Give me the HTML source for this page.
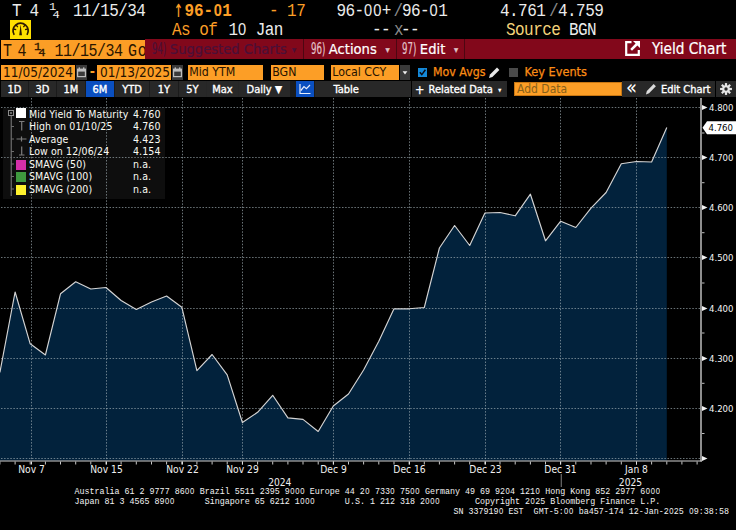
<!DOCTYPE html>
<html lang="en">
<head>
<meta charset="utf-8">
<title>T 4 1/4 11/15/34 Govt - Yield Chart</title>
<style>
html,body{margin:0;padding:0;background:#000;}
body{width:736px;height:530px;position:relative;overflow:hidden;font-family:"DejaVu Sans Condensed","Liberation Sans",sans-serif;color:#fff;}
.abs{position:absolute;white-space:nowrap;}
.m{position:absolute;white-space:pre;font-family:"Liberation Mono",monospace;font-size:16px;line-height:16px;letter-spacing:-0.55px;transform:scaleY(1.16);transform-origin:0 0;color:#ececec;}
.tk{position:absolute;top:2.5px;white-space:pre;font-family:"Liberation Mono",monospace;font-size:15px;line-height:16px;letter-spacing:-0.5px;transform:scaleY(1.2);transform-origin:0 0;color:#2a1500;}
.z{display:inline-block;font-family:"Liberation Sans",sans-serif;font-size:14.6px;width:9.05px;text-align:center;letter-spacing:0;line-height:0;}
.fz{display:inline-block;font-family:"Liberation Sans",sans-serif;font-size:7.6px;width:5.01px;text-align:center;letter-spacing:0;line-height:0;}
.o{color:#fc9e26;}
.g{color:#8a8a8a;}
.y{color:#f3d27a;}
.bar{position:absolute;left:144.5px;top:39px;width:592px;height:20.4px;background:#82081b;}
.sec{position:absolute;top:39px;height:20px;line-height:20px;font-size:14.6px;color:#fff;white-space:nowrap;-webkit-text-stroke:0.2px currentColor;}
.sep{position:absolute;top:39px;width:1px;height:20px;background:#4d0712;}
.num{display:inline-block;font-size:15.5px;color:#e4c4ca;transform:scaleX(0.62);transform-origin:0 50%;margin-right:-9px;}
.fld{position:absolute;top:65px;height:15px;line-height:15px;background:#fc9e26;color:#261200;font-size:12.3px;white-space:nowrap;overflow:hidden;}
.cal{position:absolute;top:65px;width:11px;height:15px;background:#3a3a3a;}
.tab{position:absolute;top:81px;height:16px;line-height:18px;overflow:hidden;background:#282828;color:#fff;font-size:11px;font-weight:normal;-webkit-text-stroke:0.35px #fff;text-align:center;white-space:nowrap;}
.tab svg,.cal svg{display:block;}
.chart{position:absolute;left:0;top:97px;}
.ax{font-family:"DejaVu Sans Condensed","Liberation Sans",sans-serif;font-size:9.5px;fill:#f4f4f4;}
.xl{font-family:"DejaVu Sans Condensed","Liberation Sans",sans-serif;font-size:10.2px;fill:#f0f0f0;}
.leg{position:absolute;left:2.5px;top:107.5px;width:162px;height:91px;background:#0e0e0e;}
.lt{position:absolute;left:29px;letter-spacing:0.1px;font-size:10.5px;line-height:12px;color:#fbfbf4;white-space:nowrap;}
.lv{position:absolute;left:133px;letter-spacing:0.1px;font-size:10.5px;line-height:12px;color:#fbfbf4;white-space:nowrap;}
.sw{position:absolute;left:16px;width:10px;height:10px;}
.ft{position:absolute;white-space:pre;font-family:"Liberation Mono",monospace;font-size:8.35px;line-height:9px;color:#f2f2f2;transform:scaleY(1.1);transform-origin:0 0;}
</style>
</head>
<body>
<!-- header row 1 -->
<span class="m" style="left:12px;top:2px;">T</span><span class="m" style="left:29.5px;top:2px;">4</span><span class="m" style="left:49px;top:1.9px;font-size:10.5px;line-height:11px;letter-spacing:-3.2px;transform:scale(1.15,1);">1<span style="position:relative;top:8px;">4</span></span><span class="m" style="left:73px;top:2px;">11/15/34</span>
<span class="m o" style="left:173.6px;top:-1.9px;font-size:19px;line-height:16px;font-family:'DejaVu Sans Mono','Liberation Mono',monospace;transform:scale(0.8,1.29);">↑</span><span class="m o" style="left:184.4px;top:2px;font-weight:bold;letter-spacing:0px;">96-<span class="z">0</span>1</span>
<span class="m o" style="left:269px;top:2px;">- 17</span>
<span class="m" style="left:336.5px;top:2px;">96-<span class="z">0</span><span class="z">0</span>+</span>
<span class="m g" style="left:393.5px;top:2px;">/</span>
<span class="m" style="left:402px;top:2px;">96-<span class="z">0</span>1</span>
<span class="m" style="left:500px;top:2px;">4.761</span>
<span class="m g" style="left:549px;top:2px;">/</span>
<span class="m" style="left:558px;top:2px;">4.759</span>
<!-- header row 2 -->
<div class="abs" style="left:10px;top:20px;width:21px;height:19px;background:#ffe000;">
<svg style="display:block" width="21" height="19" viewBox="0 0 21 19"><path d="M4.2 14.9 A7.6 7.6 0 1 1 17 14.9" fill="none" stroke="#2e1a00" stroke-width="1.7"/><path d="M10.6 4.6 L12 15.2 L9.2 15.2 Z" fill="#2e1a00"/><path d="M3.2 9.0 L6.2 9.7 M5.9 4.6 L7.8 7.1 M15.3 4.6 L13.4 7.1 M18.0 9.0 L15.0 9.7" stroke="#2e1a00" stroke-width="1.3" fill="none"/></svg>
</div>
<span class="m o" style="left:172px;top:21.2px;">As of</span>
<span class="m" style="left:228.5px;top:21.2px;">1<span class="z">0</span> Jan</span>
<span class="m" style="left:372px;top:21.2px;">--</span>
<span class="m g" style="left:394px;top:21.2px;">x</span>
<span class="m" style="left:401px;top:21.2px;">--</span>
<span class="m y" style="left:506px;top:21.2px;">Source</span>
<span class="m" style="left:569px;top:21.2px;">BGN</span>
<!-- crimson bar -->
<div class="bar"></div>
<div class="abs" style="left:1px;top:40px;width:143.5px;height:18.5px;background:#fc9e26;overflow:hidden;"><span class="tk" style="left:2px;">T</span><span class="tk" style="left:16.5px;">4</span><span class="tk" style="left:33px;top:1.6px;font-size:10.5px;line-height:11px;letter-spacing:-2.6px;transform:scale(1.15,1);-webkit-text-stroke:0.3px #2a1500;">1<span style="position:relative;top:6.8px;">4</span></span><span class="tk" style="left:53.5px;">11/15/34</span><span class="tk" style="left:127px;letter-spacing:0.8px;">Govt</span></div>
<div class="sec" style="left:151.5px;color:#4a1038;font-size:14.6px;"><span class="num" style="color:#4a1038;">94)</span> Suggested Charts <span style="font-size:6px;position:relative;top:-2.5px;left:1px;">▼</span></div>
<div class="sep" style="left:303px;"></div>
<div class="sec" style="left:310.5px;"><span class="num">96)</span> Actions <span style="font-size:6px;position:relative;top:-2.5px;left:4.5px;color:#e0c4c8;">▼</span></div>
<div class="sep" style="left:396px;"></div>
<div class="sec" style="left:401.5px;"><span class="num">97)</span> Edit <span style="font-size:6px;position:relative;top:-2.5px;left:4.5px;color:#e0c4c8;">▼</span></div>
<div class="sep" style="left:464px;"></div>
<svg class="abs" style="left:625px;top:41px;" width="15" height="15" viewBox="0 0 15 15"><path d="M6.5 1.2 H1.2 V13.8 H13.8 V9" fill="none" stroke="#fff" stroke-width="2.2"/><path d="M8 0 H15 V7 L12.4 4.4 L7 9.8 L5.2 8 L10.6 2.6 Z" fill="#fff"/></svg>
<div class="sec" style="left:652px;font-size:15.2px;">Yield Chart</div>
<!-- row 4 -->
<div class="fld" style="left:1px;width:74px;"><span style="padding-left:2px;font-size:13.5px;">11/05/2024</span></div>
<div class="cal" style="left:76px;"><svg style="display:block" width="11" height="15" viewBox="0 0 11 15"><rect x="1" y="3.6" width="9" height="8.6" fill="#bdbdbd"/><rect x="2.2" y="6.6" width="6.6" height="4.4" fill="#3a3a3a"/><rect x="2.6" y="2.4" width="1.4" height="2" fill="#bdbdbd"/><rect x="7" y="2.4" width="1.4" height="2" fill="#bdbdbd"/></svg></div>
<div class="abs o" style="left:89.8px;top:64px;font-size:14px;font-weight:bold;line-height:15px;">-</div>
<div class="fld" style="left:97px;width:74px;"><span style="padding-left:3px;font-size:13.5px;">01/13/2025</span></div>
<div class="cal" style="left:172px;"><svg style="display:block" width="11" height="15" viewBox="0 0 11 15"><rect x="1" y="3.6" width="9" height="8.6" fill="#bdbdbd"/><rect x="2.2" y="6.6" width="6.6" height="4.4" fill="#3a3a3a"/><rect x="2.6" y="2.4" width="1.4" height="2" fill="#bdbdbd"/><rect x="7" y="2.4" width="1.4" height="2" fill="#bdbdbd"/></svg></div>
<div class="fld" style="left:188px;width:75px;"><span style="padding-left:1.2px;">Mid YTM</span></div>
<div class="fld" style="left:271px;width:53px;"><span style="padding-left:1.2px;">BGN</span></div>
<div class="fld" style="left:331px;width:68px;"><span style="padding-left:1.2px;">Local CCY</span></div>
<div class="cal" style="left:400px;width:10px;"><svg width="10" height="15" viewBox="0 0 10 15"><path d="M2.6 6.2 H7.4 L5 9.6 Z" fill="#f0f0f0"/></svg></div>
<div class="abs" style="left:418px;top:68px;width:9px;height:9px;background:#1488d8;"><svg style="display:block" width="9" height="9" viewBox="0 0 9 9"><path d="M1.8 4.3 L3.8 6.6 L7.4 1.8" fill="none" stroke="#0c0c14" stroke-width="1.5"/></svg></div>
<div class="abs o" style="left:433px;top:64px;font-size:12.3px;line-height:16px;color:#fb8c14;-webkit-text-stroke:0.25px #fb8c14;">Mov Avgs</div>
<svg class="abs" style="left:488px;top:66px;" width="13" height="13" viewBox="0 0 13 13"><path d="M1 12 L2 8.6 L9 1.6 L11.4 4 L4.4 11 Z" fill="#e8e8e8"/></svg>
<div class="abs" style="left:509px;top:68px;width:9px;height:9px;background:#4a4a4a;"></div>
<div class="abs o" style="left:524.5px;top:64px;font-size:12.6px;line-height:16px;color:#fb8c14;-webkit-text-stroke:0.25px #fb8c14;">Key Events</div>
<!-- row 5 tabs -->
<div class="abs" style="left:1px;top:81px;width:410px;height:16px;background:#1b1b1b;"></div>
<div class="abs" style="left:179px;top:81px;width:111px;height:16px;background:#262626;"></div>
<div class="tab" style="left:1px;width:27px;">1D</div>
<div class="tab" style="left:29px;width:27px;">3D</div>
<div class="tab" style="left:57px;width:28px;">1M</div>
<div class="tab" style="left:86px;width:28px;background:#0a4fc0;">6M</div>
<div class="tab" style="left:115px;width:34px;">YTD</div>
<div class="tab" style="left:150px;width:28px;">1Y</div>
<div class="tab" style="left:179px;width:27px;">5Y</div>
<div class="tab" style="left:207px;width:31px;">Max</div>
<div class="tab" style="left:239px;width:51px;">Daily <span style="font-size:11px;-webkit-text-stroke:0;">▼</span></div>
<div class="tab" style="left:296px;width:18px;background:#0a4fc0;"><svg width="18" height="16" viewBox="0 0 18 16"><path d="M4 3 V12.5 H14.5" fill="none" stroke="#e8eefc" stroke-width="1.2"/><path d="M4.8 9.5 L8 5.6 L10.4 7.6 L14 4" fill="none" stroke="#e8eefc" stroke-width="1.2"/></svg></div>
<div class="tab" style="left:315px;width:96px;text-align:left;"><span style="padding-left:18.5px;">Table</span></div>
<div class="tab" style="left:412px;width:95px;text-align:left;"><span style="position:absolute;left:3px;top:-0.5px;font-size:12.5px;-webkit-text-stroke:0.3px #fff;">+</span><span style="position:absolute;left:16.5px;">Related Data</span><span style="position:absolute;left:86px;top:-0.5px;font-size:5px;-webkit-text-stroke:0;">▼</span></div>
<div class="abs" style="left:514px;top:81.5px;width:107.5px;height:14.6px;box-sizing:border-box;background:#fc9e26;border:1px solid #c77612;line-height:12px;font-size:12px;color:#86601a;"><span style="padding-left:2px;">Add Data</span></div>
<div class="tab" style="left:622px;width:19px;font-size:20px;line-height:12px;-webkit-text-stroke:0;">«</div>
<div class="tab" style="left:641px;width:74px;text-align:left;"><svg style="position:absolute;left:4px;top:2px;" width="12" height="12" viewBox="0 0 13 13"><path d="M1 12.4 L2 8.6 L9.4 1.2 L11.8 3.6 L4.4 11 Z" fill="#dcdcdc"/></svg><span style="padding-left:20px;">Edit Chart</span></div>
<div class="tab" style="left:716px;width:20px;"><svg width="20" height="16" viewBox="0 0 20 16"><g transform="translate(10 8) scale(1.1)" stroke="#e6e6e6" stroke-width="2"><line x1="0" y1="-5.4" x2="0" y2="5.4"/><line x1="-5.4" y1="0" x2="5.4" y2="0"/><line x1="-3.8" y1="-3.8" x2="3.8" y2="3.8"/><line x1="-3.8" y1="3.8" x2="3.8" y2="-3.8"/></g><circle cx="10" cy="8" r="3.8" fill="#e6e6e6"/><circle cx="10" cy="8" r="1.7" fill="#282828"/></svg></div>
<!-- chart -->
<div class="leg"></div>
<svg class="chart" width="736" height="393" viewBox="0 0 736 393">
<polygon points="0,363.5 0,275.5 -0.1,275.5 15.1,195.0 30.2,246.8 45.4,258.0 60.5,196.8 75.7,184.8 90.8,192.0 106.0,190.5 121.1,203.5 136.3,212.5 151.5,205.0 166.6,199.0 181.8,210.2 196.9,273.7 212.1,257.5 227.2,277.9 242.4,325.5 257.6,315.3 272.7,298.3 287.9,320.9 303.0,322.4 318.2,334.5 333.3,309.0 348.5,297.0 363.6,273.0 378.8,244.2 394.0,211.8 409.1,211.8 424.3,210.5 439.4,151.0 454.6,128.5 469.7,148.5 484.9,116.0 500.0,115.5 515.2,118.8 530.4,97.2 545.5,143.8 560.7,124.2 575.8,130.5 591.0,111.1 606.1,95.5 621.3,66.8 636.5,64.5 651.6,65.0 666.8,30.5 666.8,363.5" fill="#02223c"/>
<line x1="1" y1="10.5" x2="700" y2="10.5" stroke="#a2b0b6" stroke-opacity="0.66" stroke-width="1" stroke-dasharray="1.5 1.6"/>
<line x1="1" y1="60.5" x2="700" y2="60.5" stroke="#a2b0b6" stroke-opacity="0.66" stroke-width="1" stroke-dasharray="1.5 1.6"/>
<line x1="1" y1="110.5" x2="700" y2="110.5" stroke="#a2b0b6" stroke-opacity="0.66" stroke-width="1" stroke-dasharray="1.5 1.6"/>
<line x1="1" y1="160.5" x2="700" y2="160.5" stroke="#a2b0b6" stroke-opacity="0.66" stroke-width="1" stroke-dasharray="1.5 1.6"/>
<line x1="1" y1="211.5" x2="700" y2="211.5" stroke="#a2b0b6" stroke-opacity="0.66" stroke-width="1" stroke-dasharray="1.5 1.6"/>
<line x1="1" y1="261.5" x2="700" y2="261.5" stroke="#a2b0b6" stroke-opacity="0.66" stroke-width="1" stroke-dasharray="1.5 1.6"/>
<line x1="1" y1="311.5" x2="700" y2="311.5" stroke="#a2b0b6" stroke-opacity="0.66" stroke-width="1" stroke-dasharray="1.5 1.6"/>
<line x1="1" y1="361.5" x2="700" y2="361.5" stroke="#a2b0b6" stroke-opacity="0.66" stroke-width="1" stroke-dasharray="1.5 1.6"/>
<line x1="31.5" y1="1" x2="31.5" y2="363.5" stroke="#a2b0b6" stroke-opacity="0.66" stroke-width="1" stroke-dasharray="1.5 1.6"/>
<line x1="106.5" y1="1" x2="106.5" y2="363.5" stroke="#a2b0b6" stroke-opacity="0.66" stroke-width="1" stroke-dasharray="1.5 1.6"/>
<line x1="182.5" y1="1" x2="182.5" y2="363.5" stroke="#a2b0b6" stroke-opacity="0.66" stroke-width="1" stroke-dasharray="1.5 1.6"/>
<line x1="242.5" y1="1" x2="242.5" y2="363.5" stroke="#a2b0b6" stroke-opacity="0.66" stroke-width="1" stroke-dasharray="1.5 1.6"/>
<line x1="333.5" y1="1" x2="333.5" y2="363.5" stroke="#a2b0b6" stroke-opacity="0.66" stroke-width="1" stroke-dasharray="1.5 1.6"/>
<line x1="409.5" y1="1" x2="409.5" y2="363.5" stroke="#a2b0b6" stroke-opacity="0.66" stroke-width="1" stroke-dasharray="1.5 1.6"/>
<line x1="485.5" y1="1" x2="485.5" y2="363.5" stroke="#a2b0b6" stroke-opacity="0.66" stroke-width="1" stroke-dasharray="1.5 1.6"/>
<line x1="560.5" y1="1" x2="560.5" y2="363.5" stroke="#a2b0b6" stroke-opacity="0.66" stroke-width="1" stroke-dasharray="1.5 1.6"/>
<line x1="636.5" y1="1" x2="636.5" y2="363.5" stroke="#a2b0b6" stroke-opacity="0.66" stroke-width="1" stroke-dasharray="1.5 1.6"/>
<polyline points="-0.1,275.5 15.1,195.0 30.2,246.8 45.4,258.0 60.5,196.8 75.7,184.8 90.8,192.0 106.0,190.5 121.1,203.5 136.3,212.5 151.5,205.0 166.6,199.0 181.8,210.2 196.9,273.7 212.1,257.5 227.2,277.9 242.4,325.5 257.6,315.3 272.7,298.3 287.9,320.9 303.0,322.4 318.2,334.5 333.3,309.0 348.5,297.0 363.6,273.0 378.8,244.2 394.0,211.8 409.1,211.8 424.3,210.5 439.4,151.0 454.6,128.5 469.7,148.5 484.9,116.0 500.0,115.5 515.2,118.8 530.4,97.2 545.5,143.8 560.7,124.2 575.8,130.5 591.0,111.1 606.1,95.5 621.3,66.8 636.5,64.5 651.6,65.0 666.8,30.5" fill="none" stroke="#d4d4d4" stroke-width="1.15" stroke-linejoin="round"/>
<rect x="700" y="1" width="2" height="363.5" fill="#8e8e8e"/>
<rect x="0" y="363.5" width="702" height="1" fill="#d2d2d2"/>
<rect x="-0.6" y="364.5" width="1" height="3" fill="#c8c8c8"/>
<rect x="14.6" y="364.5" width="1" height="3" fill="#c8c8c8"/>
<rect x="29.7" y="364.5" width="1" height="3" fill="#c8c8c8"/>
<rect x="44.9" y="364.5" width="1" height="3" fill="#c8c8c8"/>
<rect x="60.0" y="364.5" width="1" height="3" fill="#c8c8c8"/>
<rect x="75.2" y="364.5" width="1" height="3" fill="#c8c8c8"/>
<rect x="90.3" y="364.5" width="1" height="3" fill="#c8c8c8"/>
<rect x="105.5" y="364.5" width="1" height="3" fill="#c8c8c8"/>
<rect x="120.6" y="364.5" width="1" height="3" fill="#c8c8c8"/>
<rect x="135.8" y="364.5" width="1" height="3" fill="#c8c8c8"/>
<rect x="151.0" y="364.5" width="1" height="3" fill="#c8c8c8"/>
<rect x="166.1" y="364.5" width="1" height="3" fill="#c8c8c8"/>
<rect x="181.3" y="364.5" width="1" height="3" fill="#c8c8c8"/>
<rect x="196.4" y="364.5" width="1" height="3" fill="#c8c8c8"/>
<rect x="211.6" y="364.5" width="1" height="3" fill="#c8c8c8"/>
<rect x="226.7" y="364.5" width="1" height="3" fill="#c8c8c8"/>
<rect x="241.9" y="364.5" width="1" height="3" fill="#c8c8c8"/>
<rect x="257.1" y="364.5" width="1" height="3" fill="#c8c8c8"/>
<rect x="272.2" y="364.5" width="1" height="3" fill="#c8c8c8"/>
<rect x="287.4" y="364.5" width="1" height="3" fill="#c8c8c8"/>
<rect x="302.5" y="364.5" width="1" height="3" fill="#c8c8c8"/>
<rect x="317.7" y="364.5" width="1" height="3" fill="#c8c8c8"/>
<rect x="332.8" y="364.5" width="1" height="3" fill="#c8c8c8"/>
<rect x="348.0" y="364.5" width="1" height="3" fill="#c8c8c8"/>
<rect x="363.1" y="364.5" width="1" height="3" fill="#c8c8c8"/>
<rect x="378.3" y="364.5" width="1" height="3" fill="#c8c8c8"/>
<rect x="393.5" y="364.5" width="1" height="3" fill="#c8c8c8"/>
<rect x="408.6" y="364.5" width="1" height="3" fill="#c8c8c8"/>
<rect x="423.8" y="364.5" width="1" height="3" fill="#c8c8c8"/>
<rect x="438.9" y="364.5" width="1" height="3" fill="#c8c8c8"/>
<rect x="454.1" y="364.5" width="1" height="3" fill="#c8c8c8"/>
<rect x="469.2" y="364.5" width="1" height="3" fill="#c8c8c8"/>
<rect x="484.4" y="364.5" width="1" height="3" fill="#c8c8c8"/>
<rect x="499.5" y="364.5" width="1" height="3" fill="#c8c8c8"/>
<rect x="514.7" y="364.5" width="1" height="3" fill="#c8c8c8"/>
<rect x="529.9" y="364.5" width="1" height="3" fill="#c8c8c8"/>
<rect x="545.0" y="364.5" width="1" height="3" fill="#c8c8c8"/>
<rect x="560.2" y="364.5" width="1" height="3" fill="#c8c8c8"/>
<rect x="575.3" y="364.5" width="1" height="3" fill="#c8c8c8"/>
<rect x="590.5" y="364.5" width="1" height="3" fill="#c8c8c8"/>
<rect x="605.6" y="364.5" width="1" height="3" fill="#c8c8c8"/>
<rect x="620.8" y="364.5" width="1" height="3" fill="#c8c8c8"/>
<rect x="636.0" y="364.5" width="1" height="3" fill="#c8c8c8"/>
<rect x="651.1" y="364.5" width="1" height="3" fill="#c8c8c8"/>
<rect x="666.3" y="364.5" width="1" height="3" fill="#c8c8c8"/>
<rect x="681.4" y="364.5" width="1" height="3" fill="#c8c8c8"/>
<rect x="696.6" y="364.5" width="1" height="3" fill="#c8c8c8"/>
<rect x="31.0" y="364.5" width="1" height="3" fill="#e0e0e0"/>
<rect x="106.0" y="364.5" width="1" height="3" fill="#e0e0e0"/>
<rect x="182.0" y="364.5" width="1" height="3" fill="#e0e0e0"/>
<rect x="242.0" y="364.5" width="1" height="3" fill="#e0e0e0"/>
<rect x="333.0" y="364.5" width="1" height="3" fill="#e0e0e0"/>
<rect x="409.0" y="364.5" width="1" height="3" fill="#e0e0e0"/>
<rect x="485.0" y="364.5" width="1" height="3" fill="#e0e0e0"/>
<rect x="560.0" y="364.5" width="1" height="3" fill="#e0e0e0"/>
<rect x="636.0" y="364.5" width="1" height="3" fill="#e0e0e0"/>
<polygon points="702,8.0 707.5,10.5 702,13.0" fill="#f2f2f2"/>
<text x="709" y="14.1" class="ax">4.800</text>
<polygon points="702,58.0 707.5,60.5 702,63.0" fill="#f2f2f2"/>
<text x="709" y="64.1" class="ax">4.700</text>
<polygon points="702,108.0 707.5,110.5 702,113.0" fill="#f2f2f2"/>
<text x="709" y="114.1" class="ax">4.600</text>
<polygon points="702,158.0 707.5,160.5 702,163.0" fill="#f2f2f2"/>
<text x="709" y="164.1" class="ax">4.500</text>
<polygon points="702,209.0 707.5,211.5 702,214.0" fill="#f2f2f2"/>
<text x="709" y="215.1" class="ax">4.400</text>
<polygon points="702,259.0 707.5,261.5 702,264.0" fill="#f2f2f2"/>
<text x="709" y="265.1" class="ax">4.300</text>
<polygon points="702,309.0 707.5,311.5 702,314.0" fill="#f2f2f2"/>
<text x="709" y="315.1" class="ax">4.200</text>
<polygon points="702,359.0 707.5,361.5 702,364.0" fill="#f2f2f2"/>
<rect x="702" y="35.5" width="2.5" height="1" fill="#bdbdbd"/>
<rect x="702" y="85.2" width="2.5" height="1" fill="#bdbdbd"/>
<rect x="702" y="135.2" width="2.5" height="1" fill="#bdbdbd"/>
<rect x="702" y="185.5" width="2.5" height="1" fill="#bdbdbd"/>
<rect x="702" y="235.5" width="2.5" height="1" fill="#bdbdbd"/>
<rect x="702" y="285.8" width="2.5" height="1" fill="#bdbdbd"/>
<rect x="702" y="336.0" width="2.5" height="1" fill="#bdbdbd"/>
<polygon points="702.5,30.7 707,24.2 736,24.2 736,37.2 707,37.2" fill="#ffffff"/>
<text x="708.5" y="34.4" class="ax" style="fill:#000">4.760</text>
<text x="31.5" y="376.3" class="xl" text-anchor="middle">Nov 7</text>
<text x="106.5" y="376.3" class="xl" text-anchor="middle">Nov 15</text>
<text x="182.5" y="376.3" class="xl" text-anchor="middle">Nov 22</text>
<text x="242.5" y="376.3" class="xl" text-anchor="middle">Nov 29</text>
<text x="333.5" y="376.3" class="xl" text-anchor="middle">Dec 9</text>
<text x="409.5" y="376.3" class="xl" text-anchor="middle">Dec 16</text>
<text x="485.5" y="376.3" class="xl" text-anchor="middle">Dec 23</text>
<text x="560.5" y="376.3" class="xl" text-anchor="middle">Dec 31</text>
<text x="636.5" y="376.3" class="xl" text-anchor="middle">Jan 8</text>
<text x="279.8" y="388.6" class="xl" text-anchor="middle">2024</text>
<text x="630.5" y="388.6" class="xl" text-anchor="middle">2025</text>
<rect x="560.7" y="377" width="1.2" height="13" fill="#6a6a6a"/>
</svg>
<!-- legend -->
<svg class="abs" style="left:0;top:106px;" width="30" height="92" viewBox="0 0 30 92">
<rect x="8.5" y="4.5" width="5" height="5" fill="none" stroke="#8a8a8a"/><line x1="10" y1="7" x2="12" y2="7" stroke="#bbb"/>
<line x1="11.25" y1="10" x2="11.25" y2="90" stroke="#6e6e6e" stroke-width="1.2"/>
<g stroke="#6e6e6e" stroke-width="1"><line x1="11" y1="20.5" x2="14" y2="20.5"/><line x1="11" y1="33" x2="14" y2="33"/><line x1="11" y1="45.5" x2="14" y2="45.5"/><line x1="11" y1="58" x2="14" y2="58"/><line x1="11" y1="70.5" x2="14" y2="70.5"/><line x1="11" y1="83" x2="14" y2="83"/></g>
<g stroke="#7c7c7c" stroke-width="1.2" fill="none"><path d="M19 15.5 H24.5 M21.7 15.5 V24.5"/><path d="M16.5 33 H26.5 M21.5 30.5 V35.5"/><path d="M21.7 40.5 V49 M19 49 H24.5"/></g>
</svg>
<div class="sw" style="top:108px;background:#fff;"></div>
<div class="sw" style="top:159.5px;background:#d42fa8;"></div>
<div class="sw" style="top:172px;background:#3f9a3f;"></div>
<div class="sw" style="top:184.5px;background:#fff22e;"></div>
<div class="lt" style="top:107.5px;">Mid Yield To Maturity</div><div class="lv" style="top:107.5px;">4.760</div>
<div class="lt" style="top:120px;">High on 01/10/25</div><div class="lv" style="top:120px;">4.760</div>
<div class="lt" style="top:132.5px;">Average</div><div class="lv" style="top:132.5px;">4.423</div>
<div class="lt" style="top:145px;">Low on 12/06/24</div><div class="lv" style="top:145px;">4.154</div>
<div class="lt" style="top:157.5px;">SMAVG (50)</div><div class="lv" style="top:157.5px;">n.a.</div>
<div class="lt" style="top:170px;">SMAVG (100)</div><div class="lv" style="top:170px;">n.a.</div>
<div class="lt" style="top:182.5px;">SMAVG (200)</div><div class="lv" style="top:182.5px;">n.a.</div>
<!-- footer -->
<div class="ft" style="left:74.5px;top:486.8px;">Australia 61 2 9777 86<span class="fz">0</span><span class="fz">0</span> Brazil 5511 2395 9<span class="fz">0</span><span class="fz">0</span><span class="fz">0</span> Europe 44 2<span class="fz">0</span> 733<span class="fz">0</span> 75<span class="fz">0</span><span class="fz">0</span> Germany 49 69 92<span class="fz">0</span>4 121<span class="fz">0</span> Hong Kong 852 2977 6<span class="fz">0</span><span class="fz">0</span><span class="fz">0</span></div>
<div class="ft" style="left:74.5px;top:496.6px;">Japan 81 3 4565 89<span class="fz">0</span><span class="fz">0</span>      Singapore 65 6212 1<span class="fz">0</span><span class="fz">0</span><span class="fz">0</span>      U.S. 1 212 318 2<span class="fz">0</span><span class="fz">0</span><span class="fz">0</span>       Copyright 2<span class="fz">0</span>25 Bloomberg Finance L.P.</div>
<div class="ft" style="left:453.5px;top:506.6px;">SN 337919<span class="fz">0</span> EST  GMT-5:<span class="fz">0</span><span class="fz">0</span> ba457-174 12-Jan-2<span class="fz">0</span>25 <span class="fz">0</span>9:38:58</div>
</body>
</html>
